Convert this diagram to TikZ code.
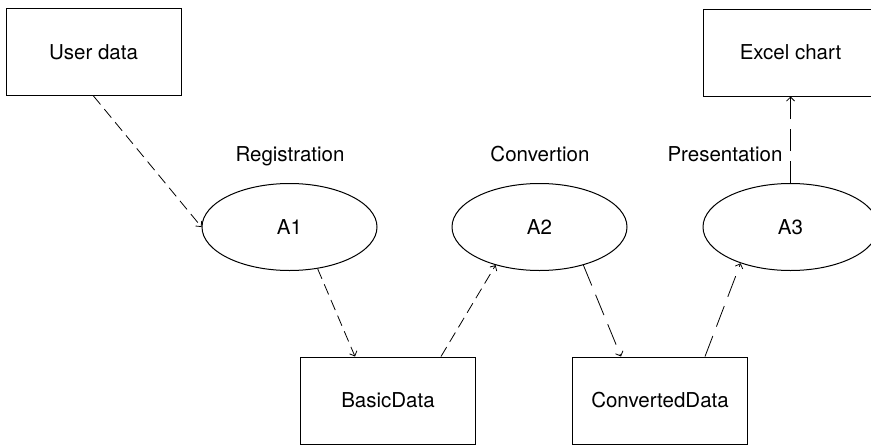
\documentclass[tikz,border=0pt]{standalone}
\usepackage{fontspec}
\setmainfont{TeX Gyre Heros}
\usetikzlibrary{arrows.meta,calc,shapes.geometric}
\begin{document}
\begin{tikzpicture}[x=1pt,y=-1pt,
  box/.style={draw,line width=1pt,minimum width=175pt,minimum height=87pt,inner sep=0pt},
  proc/.style={draw,ellipse,line width=1pt,minimum width=175pt,minimum height=87pt,inner sep=0pt},
  lbl/.style={inner sep=0pt,anchor=base},
  flowa/.style={line width=0.8pt,dash pattern=on 11pt off 6pt,-{Straight Barb[length=4pt,width=8pt]}},
  flowb/.style={line width=0.8pt,dash pattern=on 22pt off 10pt,-{Straight Barb[length=4pt,width=8pt]}},
  font=\fontsize{20.5}{24}\selectfont]
\useasboundingbox (0,0) rectangle (871,445);
\node[box] (u) at (93.5,52) {User data};
\node[box] (x) at (790.5,52.5) {Excel chart};
\node[box] (b) at (388,400.5) {BasicData};
\node[box] (c) at (660,400.5) {ConvertedData};
\node[proc] (a1) at (289.5,227) {A1};
\node[proc] (a2) at (539.5,227) {A2};
\node[proc] (a3) at (790.5,227) {A3};
\node[lbl] (l1) at (290,161) {Registration};
\node[lbl] (l2) at (540,161) {Convertion};
\node[lbl] (l3) at (725,161) {Presentation};
\draw[flowa] (u.south) -- (a1.west);
\draw[flowa] (a1.-56) -- ($(b.north west)+(55,0)$);
\draw[flowa] ($(b.north west)+(141,0)$) -- (a2.-139);
\draw[flowb] (a2.-41) -- ($(c.north west)+(49,0)$);
\draw[flowb] ($(c.north west)+(133,0)$) -- (a3.-144);
\draw[flowb] (a3.north) -- (x.south);
\end{tikzpicture}
\end{document}
